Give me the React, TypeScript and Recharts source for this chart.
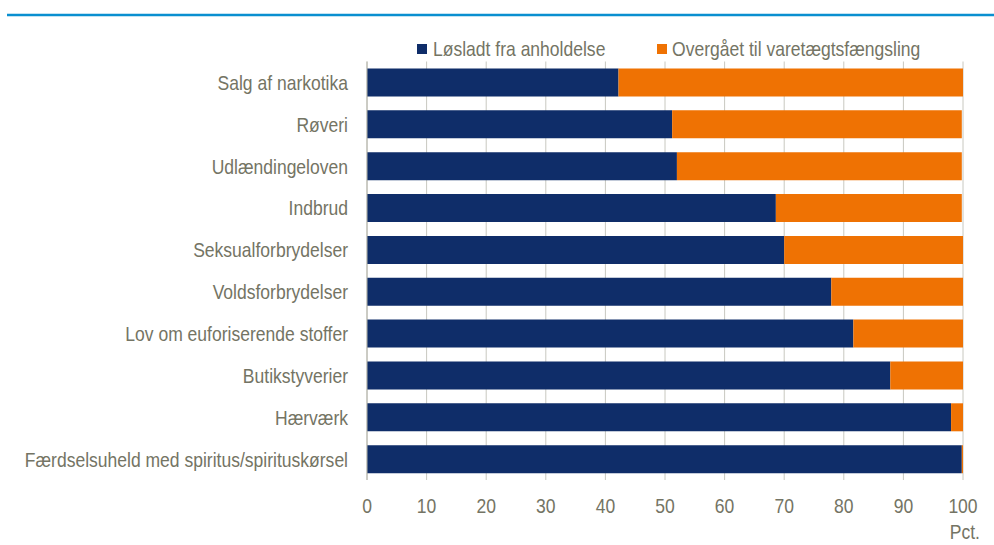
import React from 'react';
import { BarChart, Bar, XAxis, YAxis, CartesianGrid } from 'recharts';

// Andel af anholdte, fordelt på udfald (pct.)
const categories = [
  'Salg af narkotika',
  'Røveri',
  'Udlændingeloven',
  'Indbrud',
  'Seksualforbrydelser',
  'Voldsforbrydelser',
  'Lov om euforiserende stoffer',
  'Butikstyverier',
  'Hærværk',
  'Færdselsuheld med spiritus/spirituskørsel',
];
const loesladt = [42.2, 51.2, 52.0, 68.6, 70.0, 77.9, 81.6, 87.8, 98.0, 99.8];
const varetaegt = [57.8, 48.6, 47.8, 31.2, 30.0, 22.1, 18.4, 12.2, 2.0, 0.2];
const xTicks = [0, 10, 20, 30, 40, 50, 60, 70, 80, 90, 100];
const seriesNames = ['Løsladt fra anholdelse', 'Overgået til varetægtsfængsling'];

const data = categories.map((name, i) => ({
  name,
  loesladt: loesladt[i],
  varetaegt: varetaegt[i],
}));

// Arial Narrow look: Liberation Sans squeezed horizontally
const FONT = "'Liberation Sans', Arial, sans-serif";
const SQUEEZE = 0.835;
const TEXT = '#747464';
const NAVY = '#0f2d69';
const ORANGE = '#ef7203';

function NarrowText({ x, y, anchor = 'start', dy = 0, children }: any) {
  return (
    <text
      x={x}
      y={y}
      dy={dy}
      textAnchor={anchor}
      fill={TEXT}
      fontSize={21}
      fontFamily={FONT}
      transform={`translate(${x},0) scale(${SQUEEZE},1) translate(${-x},0)`}
    >
      {children}
    </text>
  );
}

const CategoryTick = ({ x, y, payload }: any) => (
  <NarrowText x={x} y={y} anchor="end" dy="0.355em">{payload.value}</NarrowText>
);

const ValueTick = ({ x, y, payload }: any) => (
  <NarrowText x={x} y={y} anchor="middle" dy="0.71em">{payload.value}</NarrowText>
);

export default function App() {
  return (
    <div style={{ position: 'absolute', left: 0, top: 0, width: 994, height: 545, background: '#fff' }}>
      <BarChart
        width={994}
        height={545}
        data={data}
        layout="vertical"
        margin={{ top: 61.5, right: 31, left: 0, bottom: 0 }}
        barSize={28}
      >
        <CartesianGrid horizontal={false} stroke="#c8c8c0" />
        <XAxis
          type="number"
          domain={[0, 100]}
          ticks={xTicks}
          height={65}
          axisLine={false}
          tickLine={false}
          tickSize={0}
          tickMargin={18}
          tick={<ValueTick />}
        />
        <YAxis
          type="category"
          dataKey="name"
          width={367}
          interval={0}
          axisLine={{ stroke: '#b4b4aa' }}
          tickLine={false}
          tickSize={0}
          tickMargin={19}
          tick={<CategoryTick />}
        />
        <Bar dataKey="loesladt" name={seriesNames[0]} stackId="a" fill={NAVY} isAnimationActive={false} />
        <Bar dataKey="varetaegt" name={seriesNames[1]} stackId="a" fill={ORANGE} isAnimationActive={false} />
      </BarChart>
      <svg
        width={994}
        height={545}
        style={{ position: 'absolute', left: 0, top: 0, pointerEvents: 'none' }}
      >
        <line x1={7} x2={994} y1={15} y2={15} stroke="#0a8fd0" strokeWidth={2.5} />
        <rect x={417} y={44} width={10} height={10} fill={NAVY} />
        <NarrowText x={433} y={56}>{seriesNames[0]}</NarrowText>
        <rect x={657} y={44} width={10} height={10} fill={ORANGE} />
        <NarrowText x={672} y={56}>{seriesNames[1]}</NarrowText>
        <NarrowText x={980} y={539} anchor="end">Pct.</NarrowText>
      </svg>
    </div>
  );
}
